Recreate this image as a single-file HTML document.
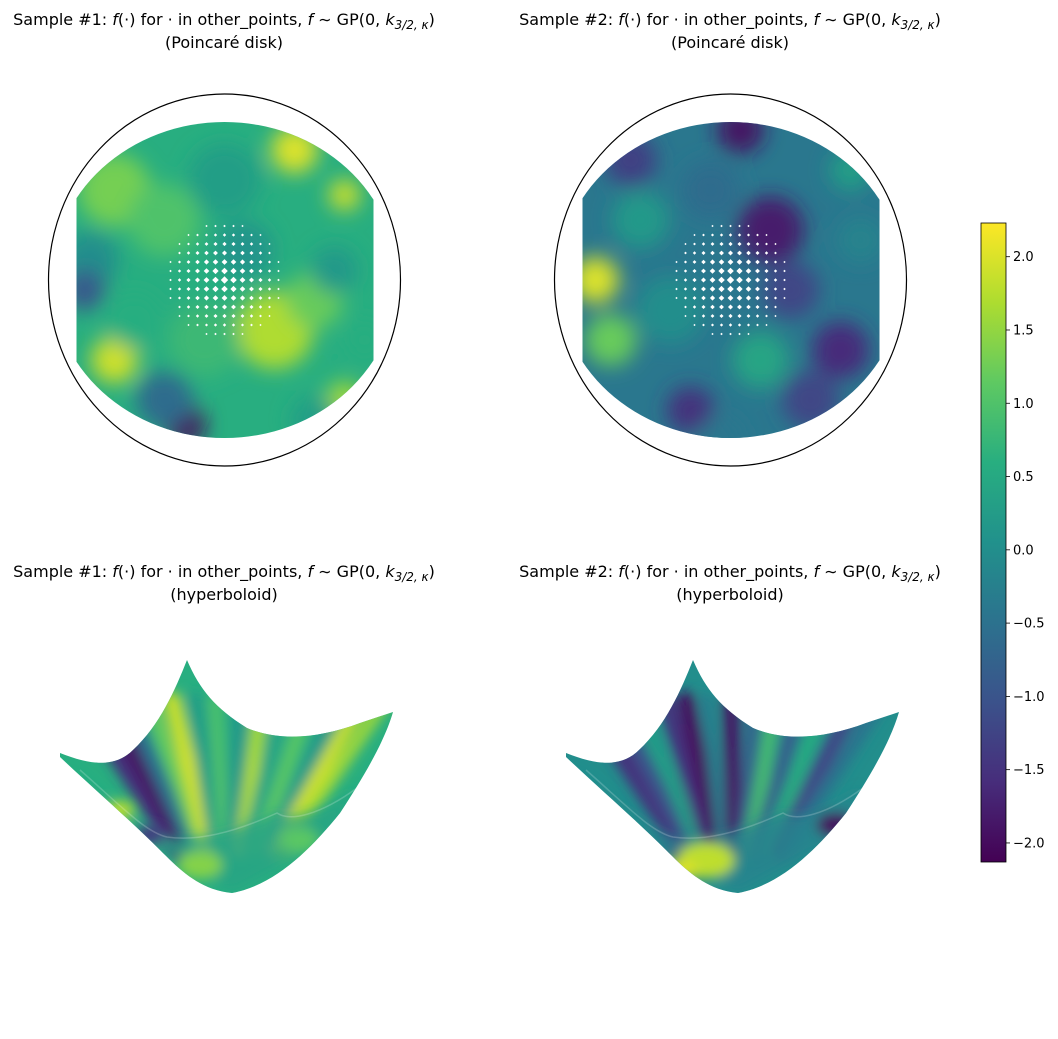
<!DOCTYPE html>
<html><head><meta charset="utf-8"><style>
body{margin:0;background:#fff;}
svg{display:block;font-family:"DejaVu Sans","Liberation Sans",sans-serif;}
</style></head><body>
<svg id="fig" width="1058" height="1039" viewBox="0 0 1058 1039" xmlns="http://www.w3.org/2000/svg">
<defs>
<linearGradient id="vir" x1="0" y1="1" x2="0" y2="0">
<stop offset="0" stop-color="#440154"/><stop offset="0.125" stop-color="#472d7b"/><stop offset="0.25" stop-color="#3b528b"/><stop offset="0.375" stop-color="#2c728e"/><stop offset="0.5" stop-color="#21918c"/><stop offset="0.625" stop-color="#28ae80"/><stop offset="0.75" stop-color="#5ec962"/><stop offset="0.875" stop-color="#addc30"/><stop offset="1" stop-color="#fde725"/>
</linearGradient>
<filter id="blur" x="-50%" y="-50%" width="200%" height="200%"><feGaussianBlur stdDeviation="10"/></filter>
<filter id="blur2" x="-50%" y="-50%" width="200%" height="200%"><feGaussianBlur stdDeviation="6"/></filter>
<clipPath id="ell"><ellipse cx="0" cy="0" rx="173" ry="158"/></clipPath>
<clipPath id="rect"><rect x="-148" y="-170" width="297" height="340"/></clipPath>
<clipPath id="hyp"><path d="M60,753 C90,765 115,768 133,750 C160,725 175,690 187,660 C200,690 215,708 247,728 C280,742 320,738 360,723 L393,712 C385,740 365,775 340,813 C310,850 275,885 232,893 C200,890 180,870 160,850 C130,820 95,790 60,757 Z"/></clipPath>
</defs>
<g id="root"></g>
</svg>
<script>
// ---- data ----
const cbTicks = [-2.0, -1.5, -1.0, -0.5, 0.0, 0.5, 1.0, 1.5, 2.0];
const cbMin = -2.13, cbMax = 2.23;
const disk1Base = 0.6;
const disk1Blobs = [[70,-130,2.0,18],[120,-85,1.9,12],[-110,-90,1.3,28],[-135,-20,0.0,22],[-140,10,-0.9,16],[-110,80,1.9,18],[-40,145,-2.0,16],[-60,120,-0.6,22],[50,50,1.7,30],[90,20,1.2,22],[-60,-60,1.0,28],[0,-100,0.3,28],[120,120,1.6,14],[110,-10,0.2,18],[-20,60,0.8,28],[20,-30,0.1,22],[-90,40,0.6,22],[90,140,0.3,18],[140,60,0.6,16]];
const disk2Base = -0.4;
const disk2Blobs = [[10,-150,-1.9,18],[-100,-120,-1.3,20],[40,-50,-1.8,26],[-135,0,2.0,18],[-120,60,1.2,20],[-60,30,0.0,26],[110,70,-1.6,22],[130,-40,-0.2,18],[-90,-60,0.2,22],[30,80,0.4,22],[80,120,-1.2,22],[-40,130,-1.5,18],[-10,160,-0.4,18],[120,-110,0.3,16],[-20,-90,-0.6,22],[60,10,-1.2,22]];
const hyp1Base = 0.6;
const hyp1Stripes = [[80,-1.5,12],[105,-1.9,14],[125,-0.5,10],[150,1.2,10],[172,1.9,12],[195,0.3,12],[215,1.0,9],[240,0.2,12],[262,1.7,10],[285,0.4,12],[310,1.1,10],[340,0.2,12],[362,1.9,10],[385,1.6,9]];
const hyp2Base = 0.0;
const hyp2Stripes = [[80,-1.5,14],[105,-1.0,10],[130,0.3,10],[160,-1.5,12],[180,-2.0,12],[200,-0.3,10],[225,-1.9,12],[250,-0.8,10],[270,0.9,10],[295,-0.8,12],[320,0.6,10],[350,-1.2,12],[375,-0.5,10]];
const hyp2Front = [[200,860,1.8,18],[330,825,-2.0,12],[175,870,2.0,10]];
const hyp1Front = [[120,810,1.8,9],[200,865,1.4,14],[300,840,1.1,12],[150,835,-1.4,10]];

const VIR=[[68,1,84],[71,45,123],[59,82,139],[44,114,142],[33,145,140],[40,174,128],[94,201,98],[173,220,48],[253,231,37]];
function color(v){let t=(v-cbMin)/(cbMax-cbMin);t=Math.max(0,Math.min(1,t))*8;const i=Math.min(7,Math.floor(t)),f=t-i;const a=VIR[i],b=VIR[i+1];return `rgb(${a.map((c,k)=>Math.round(c+(b[k]-c)*f)).join(',')})`;}
const NS='http://www.w3.org/2000/svg';
function el(tag,attrs,parent){const e=document.createElementNS(NS,tag);for(const k in attrs)e.setAttribute(k,attrs[k]);parent.appendChild(e);return e;}
const root=document.getElementById('root');

function title(cx,y,n,sub,name){
  const t=el('text',{x:cx,y:y,'text-anchor':'middle','font-size':16,fill:'#000'},root);
  
  
  t.innerHTML=`Sample #${n}: <tspan font-style="italic">f</tspan>(·) for · in other_points, <tspan font-style="italic">f</tspan> ∼ GP(0, <tspan font-style="italic">k</tspan><tspan font-size="12" dy="4"><tspan font-style="italic">3/2, κ</tspan></tspan><tspan dy="-4">)</tspan>`;
  const t2=el('text',{x:cx,y:y+23,'text-anchor':'middle','font-size':16,fill:'#000'},root);
  
  
  t2.textContent=sub;
}

function disk(cx,cy,base,blobs,name){
  const g=el('g',{transform:`translate(${cx},${cy})`},root);
  
  
  el('ellipse',{cx:0,cy:0,rx:176,ry:186,fill:'none',stroke:'#000','stroke-width':1.2},g);
  const c1=el('g',{'clip-path':'url(#ell)'},g);
  const c2=el('g',{'clip-path':'url(#rect)'},c1);
  el('rect',{x:-180,y:-170,width:360,height:340,fill:color(base)},c2);
  const bg=el('g',{filter:'url(#blur)'},c2);
  blobs.forEach(b=>{const c=el('ellipse',{cx:b[0],cy:b[1],rx:b[3]*1.3,ry:b[3]*1.3,fill:color(b[2])},bg);
    
    });
  const dg=el('g',{fill:'#fff'},c2);
  for(let i=-6;i<=6;i++)for(let j=-6;j<=6;j++){const x=i*9,y=j*9;const r=Math.hypot(x,y);if(r>60)continue;const s=3.2*(1-r/72)+0.5;el('path',{d:`M${x},${y-s}L${x+s},${y}L${x},${y+s}L${x-s},${y}Z`},dg);}
}

function hyper(dx,base,stripes,front,name){
  const g=el('g',{transform:`translate(${dx},0)`},root);
  
  
  const c=el('g',{'clip-path':'url(#hyp)'},g);
  el('rect',{x:50,y:650,width:360,height:260,fill:color(base)},c);
  const sg=el('g',{filter:'url(#blur2)'},c);
  stripes.forEach(s=>{const ln=el('line',{x1:s[0],y1:700,x2:230+(s[0]-230)*0.35,y2:850,stroke:color(s[1]),'stroke-width':s[2]*1.4,'stroke-linecap':'round'},sg);
    
    });
  const fw=el('g',{filter:'url(#blur2)'},c);
  el('path',{d:'M60,757 C100,790 140,830 167,837 C200,842 240,830 277,813 C290,820 320,815 357,788 L330,840 L232,893 L160,850 Z',fill:color(base-0.2),opacity:0.8},fw);
  front.forEach(f=>el('ellipse',{cx:f[0],cy:f[1],rx:f[3]*1.6,ry:f[3],fill:color(f[2])},fw));
  el('path',{d:'M80,770 C120,805 145,832 167,837 C200,842 240,830 277,813 C290,822 320,815 357,788',fill:'none',stroke:'rgba(255,255,255,0.2)','stroke-width':1.5},c);
}

title(224,25,1,'(Poincaré disk)','sample1-disk');
title(730,25,2,'(Poincaré disk)','sample2-disk');
title(224,577,1,'(hyperboloid)','sample1-hyperboloid');
title(730,577,2,'(hyperboloid)','sample2-hyperboloid');
disk(224.5,280,disk1Base,disk1Blobs,'sample1-disk-plot');
disk(730.5,280,disk2Base,disk2Blobs,'sample2-disk-plot');
hyper(0,hyp1Base,hyp1Stripes,hyp1Front,'sample1-hyperboloid-plot');
hyper(506,hyp2Base,hyp2Stripes,hyp2Front,'sample2-hyperboloid-plot');

const cbTop=223,cbBot=862,cbX=981,cbW=25;
const cb=el('g',{},root);


el('rect',{x:cbX,y:cbTop,width:cbW,height:cbBot-cbTop,fill:'url(#vir)',stroke:'#000','stroke-width':0.8},cb);
function cy(v){return cbBot-(v-cbMin)/(cbMax-cbMin)*(cbBot-cbTop);}
cbTicks.forEach(v=>{const y=cy(v);
  el('line',{x1:cbX+cbW,y1:y,x2:cbX+cbW+4,y2:y,stroke:'#000','stroke-width':0.8},cb);
  const t=el('text',{x:cbX+cbW+7,y:y+4.5,'font-size':13,fill:'#000'},cb);
  
  
  t.textContent=(v<0?'−':'')+Math.abs(v).toFixed(1);});
</script>
</body></html>
